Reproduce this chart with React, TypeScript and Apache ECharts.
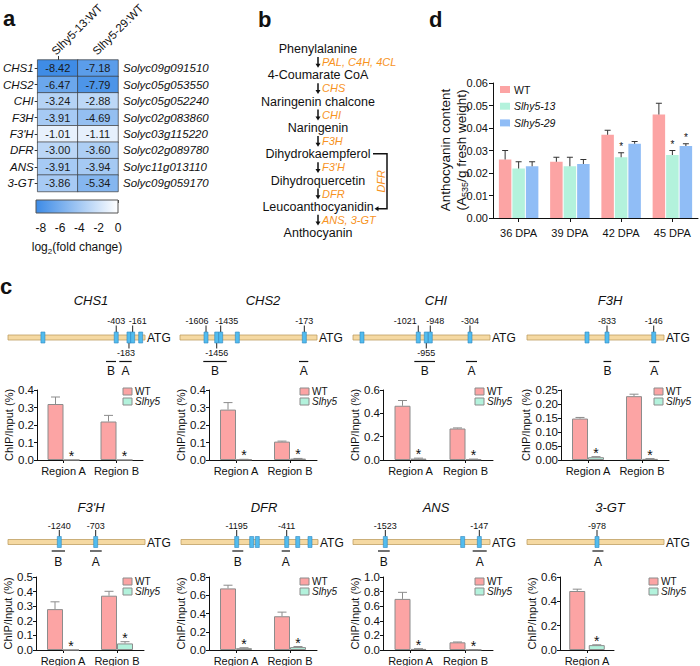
import React, { useEffect, useRef } from 'react';
import * as echarts from 'echarts';

const FONT = '"Liberation Sans", Arial, Helvetica, sans-serif';

/* ---------------- panel a : heatmap ---------------- */
const heatGenes = ['CHS1', 'CHS2', 'CHI', 'F3H', "F3'H", 'DFR', 'ANS', '3-GT'];
const heatGeneIds = ['Solyc09g091510', 'Solyc05g053550', 'Solyc05g052240', 'Solyc02g083860', 'Solyc03g115220', 'Solyc02g089780', 'Solyc11g013110', 'Solyc09g059170'];
const heatColumns = ['Slhy5-13:WT', 'Slhy5-29:WT'];
const log2fc13 = [-8.42, -6.47, -3.24, -3.91, -1.01, -3.0, -3.91, -3.86];
const log2fc29 = [-7.18, -7.79, -2.88, -4.69, -1.11, -3.6, -3.94, -5.34];
const colorbarTicks = [-8, -6, -4, -2, 0];
const colorbarRange = [-8.5, 0];

/* ---------------- panel b : pathway ---------------- */
const pathwayCompounds = ['Phenylalanine', '4-Coumarate CoA', 'Naringenin chalcone', 'Naringenin', 'Dihydrokaempferol', 'Dihydroquercetin', 'Leucoanthocyanidin', 'Anthocyanin'];
const pathwayEnzymes = ['PAL, C4H, 4CL', 'CHS', 'CHI', 'F3H', "F3'H", 'DFR', 'ANS, 3-GT'];
const bypassEnzyme = 'DFR';

/* ---------------- panel d : anthocyanin ---------------- */
const dpaCategories = ['36 DPA', '39 DPA', '42 DPA', '45 DPA'];
const anthoNames = ['WT', 'Slhy5-13', 'Slhy5-29'];
const anthoWT = [0.026, 0.025, 0.037, 0.046];
const anthoWTSd = [0.004, 0.002, 0.002, 0.005];
const anthoL13 = [0.022, 0.023, 0.027, 0.028];
const anthoL13Sd = [0.003, 0.004, 0.002, 0.002];
const anthoL29 = [0.023, 0.024, 0.033, 0.032];
const anthoL29Sd = [0.002, 0.002, 0.001, 0.001];
const anthoL13Sig = [0, 0, 1, 1];
const anthoL29Sig = [0, 0, 0, 1];
const anthoTicks = [0, 0.01, 0.02, 0.03, 0.04, 0.05, 0.06];

/* ---------------- panel c : ChIP ---------------- */
const chipNames = ['WT', 'Slhy5'];
const regionsAB = ['Region A', 'Region B'];
const regionsA = ['Region A'];

const chs1WT = [0.32, 0.22];
const chs1WTSd = [0.04, 0.035];
const chs1Mut = [0, 0];
const chs1MutSd = [0, 0];
const chs1Sig = [1, 1];
const chs1Ticks = [0, 0.1, 0.2, 0.3, 0.4];
const chs1Motifs: [number, string][] = [[-1490, ''], [-420, '-403'], [-234, '-183'], [-180, '-161'], [-63, '']];
const chs1Regions: [string, number, number][] = [['B', -569, -423], ['A', -375, -194]];

const chs2WT = [0.288, 0.105];
const chs2WTSd = [0.04, 0.003];
const chs2Mut = [0.003, 0.008];
const chs2MutSd = [0.001, 0.001];
const chs2Sig = [1, 1];
const chs2Ticks = [0, 0.1, 0.2, 0.3, 0.4];
const chs2Motifs: [number, string][] = [[-1620, '-1606'], [-1464, '-1456'], [-1406, '-1435'], [-1163, ''], [-185, '-173']];
const chs2Regions: [string, number, number][] = [['B', -1660, -1318], ['A', -263, -127]];

const chiWT = [0.465, 0.27];
const chiWTSd = [0.045, 0.005];
const chiMut = [0.012, 0.006];
const chiMutSd = [0.004, 0.002];
const chiSig = [1, 1];
const chiTicks = [0, 0.2, 0.4, 0.6];
const chiMotifs: [number, string][] = [[-1869, ''], [-1047, '-1021'], [-930, '-955'], [-872, '-948'], [-292, '-304']];
const chiRegions: [string, number, number][] = [['B', -1105, -803], ['A', -350, -190]];

const f3hWT = [0.148, 0.228];
const f3hWTSd = [0.004, 0.007];
const f3hMut = [0.01, 0.004];
const f3hMutSd = [0.002, 0.001];
const f3hSig = [1, 1];
const f3hTicks = [0, 0.05, 0.1, 0.15, 0.2, 0.25];
const f3hMotifs: [number, string][] = [[-1124, ''], [-832, '-833'], [-150, '-146']];
const f3hRegions: [string, number, number][] = [['B', -883, -770], ['A', -215, -69]];

const f3phWT = [0.28, 0.372];
const f3phWTSd = [0.05, 0.03];
const f3phMut = [0, 0.045];
const f3phMutSd = [0, 0.012];
const f3phSig = [1, 1];
const f3phTicks = [0, 0.1, 0.2, 0.3, 0.4, 0.5];
const f3phMotifs: [number, string][] = [[-1251, '-1240'], [-720, '-703']];
const f3phRegions: [string, number, number][] = [['B', -1362, -1168], ['A', -803, -632]];

const dfrWT = [0.675, 0.37];
const dfrWTSd = [0.035, 0.045];
const dfrMut = [0.02, 0.032];
const dfrMutSd = [0.005, 0.006];
const dfrSig = [1, 1];
const dfrTicks = [0, 0.2, 0.4, 0.6, 0.8];
const dfrMotifs: [number, string][] = [[-1187, '-1195'], [-968, ''], [-886, ''], [-457, '-411'], [-296, ''], [-117, '']];
const dfrRegions: [string, number, number][] = [['B', -1251, -1091], ['A', -530, -409]];

const ansWT = [0.7, 0.105];
const ansWTSd = [0.09, 0.005];
const ansMut = [0.015, 0.003];
const ansMutSd = [0.003, 0.001];
const ansSig = [1, 1];
const ansTicks = [0, 0.2, 0.4, 0.6, 0.8, 1.0];
const ansMotifs: [number, string][] = [[-1528, '-1523'], [-399, ''], [-156, '-147']];
const ansRegions: [string, number, number][] = [['B', -1635, -1464], ['A', -253, -48]];

const gt3WT = [0.485];
const gt3WTSd = [0.015];
const gt3Mut = [0.04];
const gt3MutSd = [0.003];
const gt3Sig = [1];
const gt3Ticks = [0, 0.2, 0.4, 0.6];
const gt3Motifs: [number, string][] = [[-978, '-978']];
const gt3Regions: [string, number, number][] = [['A', -1045, -884]];

const chipGenes = [
  { name: 'CHS1', cats: regionsAB, wt: chs1WT, wtSd: chs1WTSd, mut: chs1Mut, mutSd: chs1MutSd, sig: chs1Sig, ticks: chs1Ticks, motifs: chs1Motifs, regions: chs1Regions },
  { name: 'CHS2', cats: regionsAB, wt: chs2WT, wtSd: chs2WTSd, mut: chs2Mut, mutSd: chs2MutSd, sig: chs2Sig, ticks: chs2Ticks, motifs: chs2Motifs, regions: chs2Regions },
  { name: 'CHI', cats: regionsAB, wt: chiWT, wtSd: chiWTSd, mut: chiMut, mutSd: chiMutSd, sig: chiSig, ticks: chiTicks, motifs: chiMotifs, regions: chiRegions },
  { name: 'F3H', cats: regionsAB, wt: f3hWT, wtSd: f3hWTSd, mut: f3hMut, mutSd: f3hMutSd, sig: f3hSig, ticks: f3hTicks, motifs: f3hMotifs, regions: f3hRegions },
  { name: "F3'H", cats: regionsAB, wt: f3phWT, wtSd: f3phWTSd, mut: f3phMut, mutSd: f3phMutSd, sig: f3phSig, ticks: f3phTicks, motifs: f3phMotifs, regions: f3phRegions },
  { name: 'DFR', cats: regionsAB, wt: dfrWT, wtSd: dfrWTSd, mut: dfrMut, mutSd: dfrMutSd, sig: dfrSig, ticks: dfrTicks, motifs: dfrMotifs, regions: dfrRegions },
  { name: 'ANS', cats: regionsAB, wt: ansWT, wtSd: ansWTSd, mut: ansMut, mutSd: ansMutSd, sig: ansSig, ticks: ansTicks, motifs: ansMotifs, regions: ansRegions },
  { name: '3-GT', cats: regionsA, wt: gt3WT, wtSd: gt3WTSd, mut: gt3Mut, mutSd: gt3MutSd, sig: gt3Sig, ticks: gt3Ticks, motifs: gt3Motifs, regions: gt3Regions },
];

/* ---------------- layout & style (not data) ---------------- */
const HEAT_BLUE = '#3d8be6';
const WT_C = '#fca4a4';
const L13_C = '#b3f2dc';
const L29_C = '#90bdf6';
const BORDER_C = '#8c8c8c';
const ORANGE = '#f7931e';
const BOX_FILL = '#52bcee';
const BOX_STROKE = '#2f86c0';
const LINE_FILL = '#f5d9a2';
const LINE_STROKE = '#bf9f62';

const chipRows = [
  { title: 300, line: 337.5, region: 24, letter: 33.5, chartTop: 390, chartH: 70, legendY: 391.5 },
  { title: 507, line: 542, region: 9, letter: 20, chartTop: 577, chartH: 73, legendY: 581.5 },
];
const chipLayout: any[] = [
  { row: 0, lineLeft: 8, chartLeft: 37, chartWidth: 106, legendX: 123, barGap: 0, below: ['-183'], dx: { '-161': 5, '-183': -3 } },
  { row: 0, lineLeft: 180, chartLeft: 209, chartWidth: 108, legendX: 300, barGap: 0, below: ['-1456'], dx: { '-1606': -9, '-1435': 6 } },
  { row: 0, lineLeft: 353, chartLeft: 383, chartWidth: 110, legendX: 475, barGap: 0, below: ['-955'], dx: { '-1021': -13, '-948': 5 } },
  { row: 0, lineLeft: 527, chartLeft: 561, chartWidth: 108, legendX: 654, barGap: 0, below: [], dx: {} },
  { row: 1, lineLeft: 8, chartLeft: 36, chartWidth: 108, legendX: 123, barGap: 0, below: [], dx: {} },
  { row: 1, lineLeft: 181, chartLeft: 209, chartWidth: 108, legendX: 300, barGap: 0, below: [], dx: {} },
  { row: 1, lineLeft: 353, chartLeft: 383, chartWidth: 110, legendX: 475, barGap: 0, below: [], dx: {} },
  { row: 1, lineLeft: 527, chartLeft: 560, chartWidth: 54, legendX: 649, barGap: 0.22, below: [], dx: {} },
];

function errorSeries(xi: number, yi: number, items: number[][], barWidth: number, gapPx: number, nSeries: number, color: string, capW: number, starSize: number, starLift: number) {
  return {
    type: 'custom', xAxisIndex: xi, yAxisIndex: yi, clip: false, silent: true, z: 5,
    data: items,
    encode: { x: 0, y: 1 },
    renderItem: (_p: any, api: any) => {
      const ci = api.value(0), top = api.value(1), v = api.value(2), sig = api.value(3), s = api.value(4);
      const pb = api.coord([ci, v]);
      const pt = api.coord([ci, top]);
      const x = pb[0] + (s - (nSeries - 1) / 2) * (barWidth + gapPx);
      const ch: any[] = [];
      if (top > v) {
        ch.push({ type: 'line', shape: { x1: x, y1: pb[1], x2: x, y2: pt[1] }, style: { stroke: color, lineWidth: 1 } });
        ch.push({ type: 'line', shape: { x1: x - capW / 2, y1: pt[1], x2: x + capW / 2, y2: pt[1] }, style: { stroke: color, lineWidth: 1 } });
      }
      if (sig) {
        ch.push({ type: 'text', x, y: pt[1] - starLift, style: { text: '*', align: 'center', verticalAlign: 'middle', fontSize: starSize, fontFamily: FONT, fill: '#111' } });
      }
      return { type: 'group', children: ch };
    },
  };
}

function buildOption() {
  const grid: any[] = [];
  const xAxis: any[] = [];
  const yAxis: any[] = [];
  const series: any[] = [];
  const graphic: any[] = [];
  const T = (text: string, x: number, y: number, style: any = {}, extra: any = {}) => ({
    type: 'text', x, y, silent: true, ...extra,
    style: { text, fontFamily: FONT, fontSize: 12, fill: '#111', align: 'center', verticalAlign: 'middle', ...style },
  });
  const blackLine = { show: true, lineStyle: { color: '#111', width: 1 } };

  /* panel letters */
  graphic.push(T('a', 3, 18, { fontSize: 22, fontWeight: 'bold', align: 'left' }));
  graphic.push(T('b', 258, 19.5, { fontSize: 22, fontWeight: 'bold', align: 'left' }));
  graphic.push(T('d', 429, 19.5, { fontSize: 22, fontWeight: 'bold', align: 'left' }));
  graphic.push(T('c', 0, 286, { fontSize: 22, fontWeight: 'bold', align: 'left' }));

  /* ---- panel a ---- */
  const HL = 36, HT = 60, HW = 82, HH = 131.5;
  grid.push({ left: HL, top: HT, width: HW, height: HH });
  xAxis.push({
    gridIndex: 0, type: 'category', data: heatColumns, position: 'top',
    axisLine: { show: false },
    axisTick: { show: true, length: 4, alignWithLabel: true, lineStyle: { color: '#333' } },
    axisLabel: { show: false },
  });
  heatColumns.forEach((c, i) => {
    const cx = HL + (HW * (i + 0.5)) / heatColumns.length;
    graphic.push(T(c, cx - 3, HT - 7, { fontSize: 11.5, align: 'left' }, { rotation: Math.PI / 4 }));
  });
  yAxis.push({
    gridIndex: 0, type: 'category', data: heatGenes, inverse: true, position: 'left',
    axisLine: { show: false },
    axisTick: { show: true, length: 3, alignWithLabel: true, lineStyle: { color: '#333' } },
    axisLabel: { fontSize: 11.5, fontStyle: 'italic', margin: 4, color: '#111', fontFamily: FONT, interval: 0 },
  });
  yAxis.push({
    gridIndex: 0, type: 'category', data: heatGeneIds, inverse: true, position: 'right',
    axisLine: { show: false }, axisTick: { show: false },
    axisLabel: { fontSize: 11.5, fontStyle: 'italic', margin: 5, color: '#111', fontFamily: FONT, interval: 0 },
  });
  const heatData: number[][] = [];
  heatGenes.forEach((_g, i) => {
    heatData.push([0, i, log2fc13[i]]);
    heatData.push([1, i, log2fc29[i]]);
  });
  series.push({
    type: 'heatmap', xAxisIndex: 0, yAxisIndex: 0, data: heatData,
    itemStyle: { borderColor: '#3a3a3a', borderWidth: 0.7 },
    label: { show: true, formatter: (p: any) => p.value[2].toFixed(2), fontSize: 11, color: '#1a1a1a', fontFamily: FONT },
  });

  /* colorbar */
  grid.push({ left: 36, top: 200, width: 82, height: 13 });
  xAxis.push({
    gridIndex: 1, type: 'value', min: colorbarRange[0], max: colorbarRange[1], position: 'bottom',
    axisLine: { show: false }, axisTick: { show: false }, splitLine: { show: false },
    axisLabel: { customValues: colorbarTicks, fontSize: 12, margin: 9, color: '#111', fontFamily: FONT },
  });
  xAxis.push({
    gridIndex: 1, type: 'value', min: colorbarRange[0], max: colorbarRange[1], position: 'top',
    axisLine: { show: false }, splitLine: { show: false },
    axisTick: { show: true, inside: true, length: 3, customValues: colorbarTicks, lineStyle: { color: '#555' } },
    axisLabel: { show: false },
  });
  yAxis.push({ gridIndex: 1, type: 'category', data: ['scale'], show: false });
  series.push({
    type: 'custom', xAxisIndex: 1, yAxisIndex: 2, clip: false, silent: true, data: [[colorbarRange[0], 0]],
    renderItem: (_p: any, api: any) => {
      const a = api.coord([colorbarRange[0], 0]);
      const b = api.coord([colorbarRange[1], 0]);
      const h = api.size([0, 1])[1];
      return {
        type: 'rect', shape: { x: a[0], y: a[1] - h / 2, width: b[0] - a[0], height: h },
        style: {
          fill: new echarts.graphic.LinearGradient(a[0], 0, b[0], 0, [{ offset: 0, color: HEAT_BLUE }, { offset: 1, color: '#ffffff' }], true),
          stroke: '#555', lineWidth: 1,
        },
      };
    },
  });
  graphic.push(T('{n|log}{s|2}{n|(fold change)}', 77, 247, {
    rich: {
      n: { fontSize: 12, fontFamily: FONT, fill: '#111', lineHeight: 16, verticalAlign: 'middle' },
      s: { fontSize: 8, fontFamily: FONT, fill: '#111', lineHeight: 9, verticalAlign: 'bottom' },
    },
  }));

  /* ---- panel b ---- */
  const PX = 318, PY0 = 49, PSTEP = 26.3;
  pathwayCompounds.forEach((c, i) => graphic.push(T(c, PX, PY0 + i * PSTEP, { fontSize: 12.5 })));
  pathwayEnzymes.forEach((e, i) => {
    const ya = PY0 + i * PSTEP + 8;
    const yb = PY0 + (i + 1) * PSTEP - 7.5;
    graphic.push({ type: 'line', silent: true, shape: { x1: PX, y1: ya, x2: PX, y2: yb - 3 }, style: { stroke: '#111', lineWidth: 1.5 } });
    graphic.push({ type: 'polygon', silent: true, shape: { points: [[PX - 2.5, yb - 4], [PX + 2.5, yb - 4], [PX, yb]] }, style: { fill: '#111' } });
    graphic.push(T(e, PX + 4, PY0 + (i + 0.5) * PSTEP, { fontSize: 11, fontStyle: 'italic', fill: ORANGE, align: 'left' }));
  });
  {
    const y1 = PY0 + 4 * PSTEP - 0.5;
    const y2 = PY0 + 6 * PSTEP + 2;
    graphic.push({ type: 'polyline', silent: true, shape: { points: [[373, y1], [387, y1], [387, y2], [378, y2]] }, style: { stroke: '#111', lineWidth: 1.5, fill: null } });
    graphic.push({ type: 'polygon', silent: true, shape: { points: [[378.5, y2 - 2.5], [378.5, y2 + 2.5], [374.5, y2]] }, style: { fill: '#111' } });
    graphic.push(T(bypassEnzyme, 380.5, (y1 + y2) / 2, { fontSize: 11, fontStyle: 'italic', fill: ORANGE }, { rotation: Math.PI / 2 }));
  }

  /* ---- panel d ---- */
  const dG = grid.length;
  grid.push({ left: 493, top: 83, width: 205, height: 135 });
  const dX = xAxis.length;
  xAxis.push({
    gridIndex: dG, type: 'category', data: dpaCategories,
    axisLine: blackLine,
    axisTick: { show: true, alignWithLabel: true, length: 4, lineStyle: { color: '#111' } },
    axisLabel: { fontSize: 11, margin: 9, color: '#111', fontFamily: FONT, interval: 0 },
  });
  const dY = yAxis.length;
  yAxis.push({
    gridIndex: dG, type: 'value', min: anthoTicks[0], max: anthoTicks[anthoTicks.length - 1], interval: anthoTicks[1] - anthoTicks[0],
    axisLine: blackLine, axisTick: { show: true, length: 4, lineStyle: { color: '#111' } }, splitLine: { show: false },
    axisLabel: { fontSize: 11, margin: 5, color: '#111', fontFamily: FONT, formatter: (v: number) => v.toFixed(2) },
  });
  const dVals = [anthoWT, anthoL13, anthoL29];
  const dSds = [anthoWTSd, anthoL13Sd, anthoL29Sd];
  const dSig = [[0, 0, 0, 0], anthoL13Sig, anthoL29Sig];
  const dCols = [WT_C, L13_C, L29_C];
  anthoNames.forEach((n, s) => {
    series.push({ type: 'bar', name: n, xAxisIndex: dX, yAxisIndex: dY, data: dVals[s], barWidth: 12.5, barGap: '8%', itemStyle: { color: dCols[s] } });
  });
  const dItems: number[][] = [];
  anthoNames.forEach((_n, s) => dpaCategories.forEach((_c, i) => dItems.push([i, dVals[s][i] + dSds[s][i], dVals[s][i], dSig[s][i], s])));
  series.push(errorSeries(dX, dY, dItems, 12.5, 1, 3, '#333', 6, 10, 6.5));
  anthoNames.forEach((n, s) => {
    const yc = 89.5 + s * 16.7;
    graphic.push({ type: 'rect', silent: true, shape: { x: 500, y: yc - 3.5, width: 10, height: 7 }, style: { fill: dCols[s] } });
    graphic.push(T(n, 514, yc, { fontSize: 10.5, align: 'left', fontStyle: s ? 'italic' : 'normal' }));
  });
  graphic.push(T('Anthocyanin content', 445, 150, { fontSize: 13.5 }, { rotation: Math.PI / 2 }));
  graphic.push(T('{n|(A}{s|535}{n|/g fresh weight)}', 461, 150, {
    rich: {
      n: { fontSize: 13.5, fontFamily: FONT, fill: '#111', lineHeight: 17, verticalAlign: 'middle' },
      s: { fontSize: 9, fontFamily: FONT, fill: '#111', lineHeight: 10, verticalAlign: 'bottom' },
    },
  }, { rotation: Math.PI / 2 }));

  /* ---- panel c ---- */
  chipGenes.forEach((g, k) => {
    const L = chipLayout[k];
    const R = chipRows[L.row];
    const gi = grid.length;
    grid.push({ left: L.chartLeft, top: R.chartTop, width: L.chartWidth, height: R.chartH });
    const xi = xAxis.length;
    xAxis.push({
      gridIndex: gi, type: 'category', data: g.cats,
      axisLine: blackLine,
      axisTick: { show: true, alignWithLabel: true, length: 3, lineStyle: { color: '#111' } },
      axisLabel: { fontSize: 11, margin: 5, color: '#111', fontFamily: FONT, interval: 0 },
    });
    const step = g.ticks[1] - g.ticks[0];
    const dec = step < 0.099 ? 2 : 1;
    const yi = yAxis.length;
    yAxis.push({
      gridIndex: gi, type: 'value', min: g.ticks[0], max: g.ticks[g.ticks.length - 1], interval: step,
      axisLine: blackLine, axisTick: { show: true, length: 3, lineStyle: { color: '#111' } }, splitLine: { show: false },
      axisLabel: { fontSize: 11.5, margin: 3, color: '#111', fontFamily: FONT, formatter: (v: number) => v.toFixed(dec) },
      name: 'ChIP/Input (%)', nameLocation: 'middle', nameRotate: 90, nameGap: 20,
      nameTextStyle: { fontSize: 11, color: '#111', fontFamily: FONT },
    });
    const gapStr = `${Math.round(L.barGap * 100)}%`;
    series.push({ type: 'bar', name: chipNames[0], xAxisIndex: xi, yAxisIndex: yi, data: g.wt, barWidth: 16, barGap: gapStr, itemStyle: { color: WT_C, borderColor: BORDER_C, borderWidth: 1 } });
    series.push({ type: 'bar', name: chipNames[1], xAxisIndex: xi, yAxisIndex: yi, data: g.mut, barWidth: 16, barGap: gapStr, itemStyle: { color: L13_C, borderColor: BORDER_C, borderWidth: 1 } });
    const items: number[][] = [];
    g.cats.forEach((_c, i) => {
      items.push([i, g.wt[i] + g.wtSd[i], g.wt[i], 0, 0]);
      items.push([i, g.mut[i] + g.mutSd[i], g.mut[i], g.sig[i], 1]);
    });
    series.push(errorSeries(xi, yi, items, 16, 16 * L.barGap, 2, BORDER_C, 9, 14, 4));

    /* legend */
    chipNames.forEach((n, s) => {
      const yc = R.legendY + s * 10;
      graphic.push({ type: 'rect', silent: true, shape: { x: L.legendX, y: yc - 3.5, width: 9, height: 7 }, style: { fill: s ? L13_C : WT_C, stroke: BORDER_C, lineWidth: 1 } });
      graphic.push(T(n, L.legendX + 12, yc, { fontSize: 10, lineHeight: 10, align: 'left', fontStyle: s ? 'italic' : 'normal' }));
    });

    /* title */
    graphic.push(T(g.name, L.lineLeft + 83, R.title, { fontSize: 13, fontStyle: 'italic' }));

    /* promoter diagram */
    const dg = grid.length;
    grid.push({ left: L.lineLeft, top: R.line - 10, width: 137, height: 20 });
    const dxi = xAxis.length;
    xAxis.push({ gridIndex: dg, type: 'value', min: -2000, max: 0, show: false });
    const dyi = yAxis.length;
    yAxis.push({ gridIndex: dg, type: 'value', min: -1, max: 1, show: false });
    series.push({
      type: 'custom', xAxisIndex: dxi, yAxisIndex: dyi, clip: false, silent: true, data: [[-2000, 0]],
      renderItem: (_p: any, api: any) => {
        const start = api.coord([-2000, 0]);
        const x0 = start[0], cy = start[1];
        const x1 = api.coord([0, 0])[0];
        const ch: any[] = [];
        ch.push({ type: 'rect', shape: { x: x0, y: cy - 2.5, width: x1 - x0, height: 5 }, style: { fill: LINE_FILL, stroke: LINE_STROKE, lineWidth: 0.8 } });
        ch.push({ type: 'text', x: x1 + 2, y: cy + 0.5, style: { text: 'ATG', fontSize: 12, fontFamily: FONT, fill: '#111', align: 'left', verticalAlign: 'middle' } });
        g.motifs.forEach(([bp, label]) => {
          const x = api.coord([bp, 0])[0];
          if (label) {
            const below = L.below.includes(label);
            const dx = L.dx[label] || 0;
            ch.push({ type: 'line', shape: { x1: x, y1: below ? cy + 5.5 : cy - 5.5, x2: x, y2: below ? cy + 11 : cy - 12 }, style: { stroke: '#222', lineWidth: 1 } });
            ch.push({ type: 'text', x: x + dx, y: below ? cy + 15.5 : cy - 16.5, style: { text: label, fontSize: 9, fontFamily: FONT, fill: '#111', align: 'center', verticalAlign: 'middle' } });
          }
          ch.push({ type: 'rect', shape: { x: x - 2, y: cy - 5.5, width: 4, height: 11 }, style: { fill: BOX_FILL, stroke: BOX_STROKE, lineWidth: 0.6 } });
        });
        g.regions.forEach(([nm, a, b]) => {
          const xa = api.coord([a, 0])[0];
          const xb = api.coord([b, 0])[0];
          ch.push({ type: 'line', shape: { x1: xa, y1: cy + R.region, x2: xb, y2: cy + R.region }, style: { stroke: '#111', lineWidth: 1.2 } });
          ch.push({ type: 'text', x: (xa + xb) / 2, y: cy + R.letter, style: { text: nm, fontSize: 12, fontFamily: FONT, fill: '#111', align: 'center', verticalAlign: 'middle' } });
        });
        return { type: 'group', children: ch };
      },
    });
  });

  return {
    animation: false,
    backgroundColor: '#ffffff',
    textStyle: { fontFamily: FONT },
    grid, xAxis, yAxis, series, graphic,
    visualMap: {
      type: 'continuous', show: false, seriesIndex: 0, dimension: 2,
      min: colorbarRange[0], max: colorbarRange[1],
      inRange: { color: [HEAT_BLUE, '#ffffff'] },
    },
  };
}

export default function App() {
  const ref = useRef<HTMLDivElement>(null);
  useEffect(() => {
    if (!ref.current) return;
    const chart = echarts.init(ref.current, undefined, { renderer: 'svg' });
    chart.setOption(buildOption() as any);
    return () => chart.dispose();
  }, []);
  return <div ref={ref} style={{ position: 'fixed', left: 0, top: 0, width: 700, height: 666, background: '#fff' }} />;
}
